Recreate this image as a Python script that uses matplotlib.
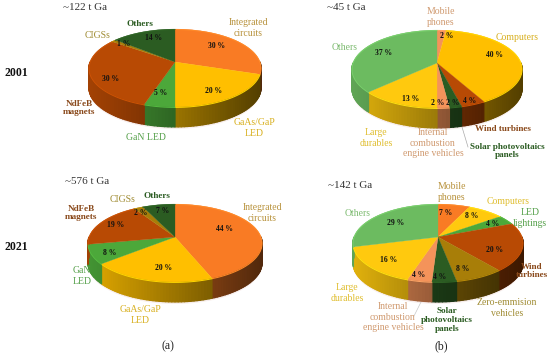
import numpy as np
import matplotlib
matplotlib.use("Agg")
import matplotlib.pyplot as plt
from matplotlib.colors import to_rgb
from matplotlib.collections import PolyCollection

plt.rcParams['font.family'] = ['Liberation Serif', 'DejaVu Serif']

ORANGE, YELLOW, GREEN = '#F97B24', '#FFBF00', '#4CA83A'
RUST, OLIVE, DKGREEN = '#B84A04', '#A87E08', '#2B5C22'
LTGREEN, SALMON, GOLD = '#6CBB60', '#F4935A', '#FFC90E'

# (a) 2001
a1_names = ['Integrated\ncircuits', 'GaAs/GaP\nLED', 'GaN LED', 'NdFeB\nmagnets', 'CIGSs', 'Others']
a1_values = [30, 20, 5, 30, 1, 14]
a1_colors = [ORANGE, YELLOW, GREEN, RUST, OLIVE, DKGREEN]
# (a) 2021
a2_names = ['Integrated\ncircuits', 'GaAs/GaP\nLED', 'GaN\nLED', 'NdFeB\nmagnets', 'CIGSs', 'Others']
a2_values = [44, 20, 8, 19, 2, 7]
a2_colors = [ORANGE, YELLOW, GREEN, RUST, OLIVE, DKGREEN]
# (b) 2001
b1_names = ['Mobile\nphones', 'Computers', 'Wind turbines', 'Solar photovoltaics\npanels',
            'Internal\ncombustion\nengine vehicles', 'Large\ndurables', 'Others']
b1_values = [2, 40, 4, 2, 2, 13, 37]
b1_colors = [SALMON, YELLOW, RUST, DKGREEN, SALMON, GOLD, LTGREEN]
# (b) 2021
b2_names = ['Mobile\nphones', 'Computers', 'LED\nlightings', 'Wind\nturbines', 'Zero-emmision\nvehicles',
            'Solar\nphotovoltaics\npanels', 'Internal\ncombustion\nengine vehicles', 'Large\ndurables', 'Others']
b2_values = [7, 8, 4, 20, 8, 4, 4, 16, 29]
b2_colors = [ORANGE, GOLD, GREEN, RUST, OLIVE, DKGREEN, SALMON, GOLD, LTGREEN]

LABEL_COLORS = {ORANGE: '#B8923C', YELLOW: '#D8B020', GREEN: '#55A04A', RUST: '#8A4A1C',
                OLIVE: '#A08C34', DKGREEN: '#2B5C22', LTGREEN: '#7DBB70', SALMON: '#D09A70', GOLD: '#E0BE30'}

fig = plt.figure(figsize=(5.5, 3.55), dpi=100)
ax = fig.add_axes([0, 0, 1, 1])
ax.set_xlim(0, 550)
ax.set_ylim(355, 0)
ax.axis('off')


def shade(c, f):
    return tuple(min(1, v * f) for v in to_rgb(c))


def draw_pie(values, colors, cx, apex_y, rx, ry, depth, lab_pos, k=0.154):
    vals = np.asarray(values, float)
    edges = np.concatenate([[0], np.cumsum(vals)]) / vals.sum() * 2 * np.pi
    px = lambda t: cx + rx * np.sin(t) / (1 + k * np.cos(t))
    py = lambda t: apex_y - ry * np.cos(t) / (1 + k * np.cos(t))
    # soft shadow under the pie
    ts = np.linspace(0, 2 * np.pi, 200)
    ax.fill(px(ts), py(ts) + depth + 2, color='#F7EDEC', lw=0, zorder=1)
    polys, cols = [], []
    for i, c in enumerate(colors):
        lo, hi = max(edges[i], np.pi / 2), min(edges[i + 1], 1.5 * np.pi)
        if hi <= lo:
            continue
        ts = np.linspace(lo, hi, max(2, int((hi - lo) / 0.03)))
        for a, b in zip(ts[:-1], ts[1:]):
            polys.append([(px(a), py(a)), (px(b), py(b)), (px(b), py(b) + depth), (px(a), py(a) + depth)])
            u = (px((a + b) / 2) - (cx - rx)) / (2 * rx)
            cols.append(shade(c, 0.88 - 0.55 * u))
    ax.add_collection(PolyCollection(polys, facecolors=cols, edgecolors=cols, linewidths=0.9, zorder=2))
    for i, c in enumerate(colors):
        ts = np.linspace(edges[i], edges[i + 1], 80)
        ax.fill(np.r_[cx, px(ts)], np.r_[apex_y, py(ts)], color=c, lw=0.2, zorder=3)
        ax.plot(px(ts), py(ts) + 0.5, color=shade(c, 1.12), lw=0.7, zorder=4)
        ax.text(lab_pos[i][0], lab_pos[i][1], f'{values[i]} %', fontsize=5.5, fontweight='bold',
                color='#111111', ha='center', va='center', zorder=5)


def names(lst, colors, pos):
    for n, c, (x, y) in zip(lst, colors, pos):
        heavy = c in (RUST, DKGREEN)
        ax.text(x, y, n, fontsize=6.6 if heavy else 7.0, color=LABEL_COLORS[c],
                fontweight='bold' if heavy else 'normal', ha='center', va='center',
                linespacing=1.15, zorder=6)


draw_pie(a1_values, a1_colors, 175, 62, 85, 38, 20,
         [(217, 46), (214, 91), (161, 93), (111, 79), (124, 44), (154, 38)])
draw_pie(a2_values, a2_colors, 175, 237, 86, 38, 20,
         [(224, 229), (164, 268), (110, 253), (116, 225), (141, 213), (163, 211)])
draw_pie(b1_values, b1_colors, 437, 63, 84, 38, 20,
         [(447, 36), (494, 55), (470, 101), (453, 103), (438, 103), (411, 99), (384, 53)])
draw_pie(b2_values, b2_colors, 438, 237, 84, 38, 20,
         [(446, 213), (472, 216), (493, 224), (495, 250), (463, 269), (440, 277), (419, 275), (389, 260), (396, 223)])

names(a1_names, a1_colors, [(248, 28), (254, 128), (146, 137), (79, 108), (98, 36), (140, 24)])
names(a2_names, a2_colors, [(262, 213), (140, 315), (82, 276), (81, 213), (123, 199), (157, 196)])
names(b1_names, b1_colors, [(441, 17), (517, 37), (503, 129), (507, 151), (433, 143), (376, 138), (345, 47)])
names(b2_names, b2_colors, [(452, 192), (508, 201), (530, 218), (532, 271), (507, 308),
                            (447, 320), (393, 317), (347, 293), (358, 213)])

for x, y, s in [(63, 8, '~122 t Ga'), (65, 181, '~576 t Ga'), (327, 7, '~45 t Ga'), (328, 185, '~142 t Ga')]:
    ax.text(x, y, s, fontsize=8, color='#333333', ha='left', va='center', zorder=6)
for y, s in [(73, '2001'), (247, '2021')]:
    ax.text(16, y, s, fontsize=8.5, fontweight='bold', color='#111111', ha='center', va='center')
ax.text(168, 346, '(a)', fontsize=8.5, color='#222222', ha='center', va='center')
ax.text(441, 346, '(b)', fontsize=8.5, color='#222222', ha='center', va='center')
ax.plot([462, 468], [127, 147], color='#AAAAAA', lw=0.5, zorder=4)
ax.plot([421, 414], [302, 316], color='#C8C8C8', lw=0.5, zorder=4)

fig.savefig('out.png', dpi=100)
